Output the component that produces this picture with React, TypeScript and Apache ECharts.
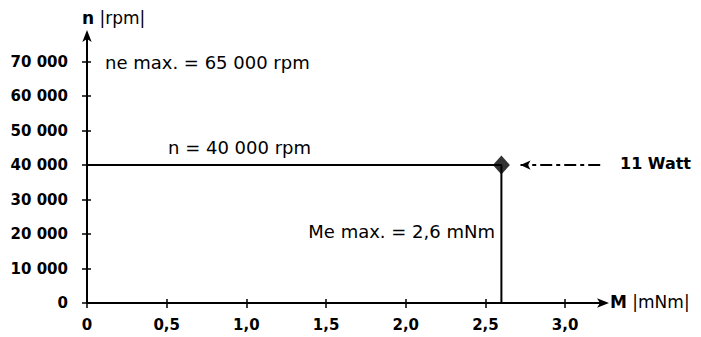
import React, { useEffect, useRef } from "react";
import * as echarts from "echarts";

const xTickValues = [0, 0.5, 1.0, 1.5, 2.0, 2.5, 3.0];
const yTickValues = [0, 10000, 20000, 30000, 40000, 50000, 60000, 70000];
const xAxisMax = 3.25;
const yAxisMax = 78000;
const operatingLine = [
  [0, 40000],
  [2.6, 40000],
  [2.6, 0],
];
const operatingPoint = [[2.6, 40000]];
const powerArrowX = [3.22, 2.72];
const powerArrowY = 40000;

const FONT = "'DejaVu Sans', 'Open Sans', sans-serif";

const fmtX = (v: number) => (v === 0 ? "0" : v.toFixed(1).replace(".", ","));
const fmtY = (v: number) =>
  String(Math.round(v)).replace(/\B(?=(\d{3})+(?!\d))/g, " ");

export default function App() {
  const ref = useRef<HTMLDivElement>(null);
  useEffect(() => {
    if (!ref.current) return;
    const chart = echarts.init(ref.current, null, { renderer: "svg" });
    const axisColor = "#000";
    const txt = (text: string, x: number, y: number, extra: any = {}) => ({
      type: "text",
      x,
      y,
      style: {
        text,
        fontFamily: FONT,
        fontSize: 17,
        fontWeight: 400,
        fill: "#000",
        textVerticalAlign: "middle",
        ...extra,
      },
    });
    const unitRich = (size: number) => ({
      b: { fontFamily: FONT, fontSize: size, fontWeight: 700, fill: "#000" },
      r: { fontFamily: FONT, fontSize: size, fontWeight: 400, fill: "#000" },
    });
    chart.setOption({
      animation: false,
      backgroundColor: "#fff",
      grid: { left: 87, right: 96, top: 34, bottom: 34, containLabel: false },
      xAxis: [
        {
          type: "value",
          min: 0,
          max: xAxisMax,
          splitLine: { show: false },
          axisLine: {
            show: true,
            onZero: false,
            symbol: ["none", "arrow"],
            symbolSize: [7, 12],
            symbolOffset: [0, 4],
            lineStyle: { color: axisColor, width: 2 },
          },
          axisTick: {
            show: true,
            length: 5,
            customValues: xTickValues,
            lineStyle: { color: axisColor, width: 1.5 },
          },
          axisLabel: {
            customValues: xTickValues,
            formatter: fmtX,
            margin: 14,
            fontFamily: FONT,
            fontSize: 15,
            fontWeight: 700,
            color: "#000",
          },
        },
        {
          type: "value",
          min: 0,
          max: xAxisMax,
          position: "bottom",
          splitLine: { show: false },
          axisLine: { show: false },
          axisTick: {
            show: true,
            inside: true,
            length: 4,
            customValues: xTickValues,
            lineStyle: { color: axisColor, width: 1.5 },
          },
          axisLabel: { show: false },
        },
      ],
      yAxis: [
        {
          type: "value",
          min: 0,
          max: yAxisMax,
          splitLine: { show: false },
          axisLine: {
            show: true,
            onZero: false,
            symbol: ["none", "arrow"],
            symbolSize: [7, 12],
            symbolOffset: [0, 4],
            lineStyle: { color: axisColor, width: 2 },
          },
          axisTick: {
            show: true,
            length: 5,
            customValues: yTickValues,
            lineStyle: { color: axisColor, width: 1.5 },
          },
          axisLabel: {
            customValues: yTickValues,
            formatter: fmtY,
            margin: 19,
            fontFamily: FONT,
            fontSize: 15,
            fontWeight: 700,
            color: "#000",
          },
        },
        {
          type: "value",
          min: 0,
          max: yAxisMax,
          position: "left",
          splitLine: { show: false },
          axisLine: { show: false },
          axisTick: {
            show: true,
            inside: true,
            length: 4,
            customValues: yTickValues,
            lineStyle: { color: axisColor, width: 1.5 },
          },
          axisLabel: { show: false },
        },
      ],
      series: [
        {
          type: "line",
          data: operatingLine,
          xAxisIndex: 0,
          yAxisIndex: 0,
          symbol: "none",
          lineStyle: { color: "#000", width: 2 },
          silent: true,
        },
        {
          type: "scatter",
          data: operatingPoint,
          xAxisIndex: 0,
          yAxisIndex: 0,
          symbol: "diamond",
          symbolSize: [17, 19],
          itemStyle: { color: "#000" },
          silent: true,
          markLine: {
            silent: true,
            symbol: ["none", "arrow"],
            symbolSize: [7, 10],
            label: { show: false },
            lineStyle: { color: "#000", width: 2, type: [12, 4, 4, 4] },
            data: [
              [
                { coord: [powerArrowX[0], powerArrowY] },
                { coord: [powerArrowX[1], powerArrowY] },
              ],
            ],
          },
        },
      ],
      graphic: [
        txt("{b|n} {r||rpm|}", 82, 18, { fontSize: 17, rich: unitRich(17) }),
        txt("ne max. = 65 000 rpm", 105, 62, { fontSize: 18 }),
        txt("n = 40 000 rpm", 168, 147, { fontSize: 18 }),
        txt("Me max. = 2,6 mNm", 495, 231, { fontSize: 18, textAlign: "right" }),
        txt("11 Watt", 620, 163, { fontSize: 16, fontWeight: 700 }),
        txt("{b|M} {r||mNm|}", 610, 302, { fontSize: 17, rich: unitRich(17) }),
      ],
    });
    return () => chart.dispose();
  }, []);
  return (
    <div
      ref={ref}
      style={{ position: "fixed", left: 0, top: 0, width: 701, height: 337 }}
    />
  );
}
